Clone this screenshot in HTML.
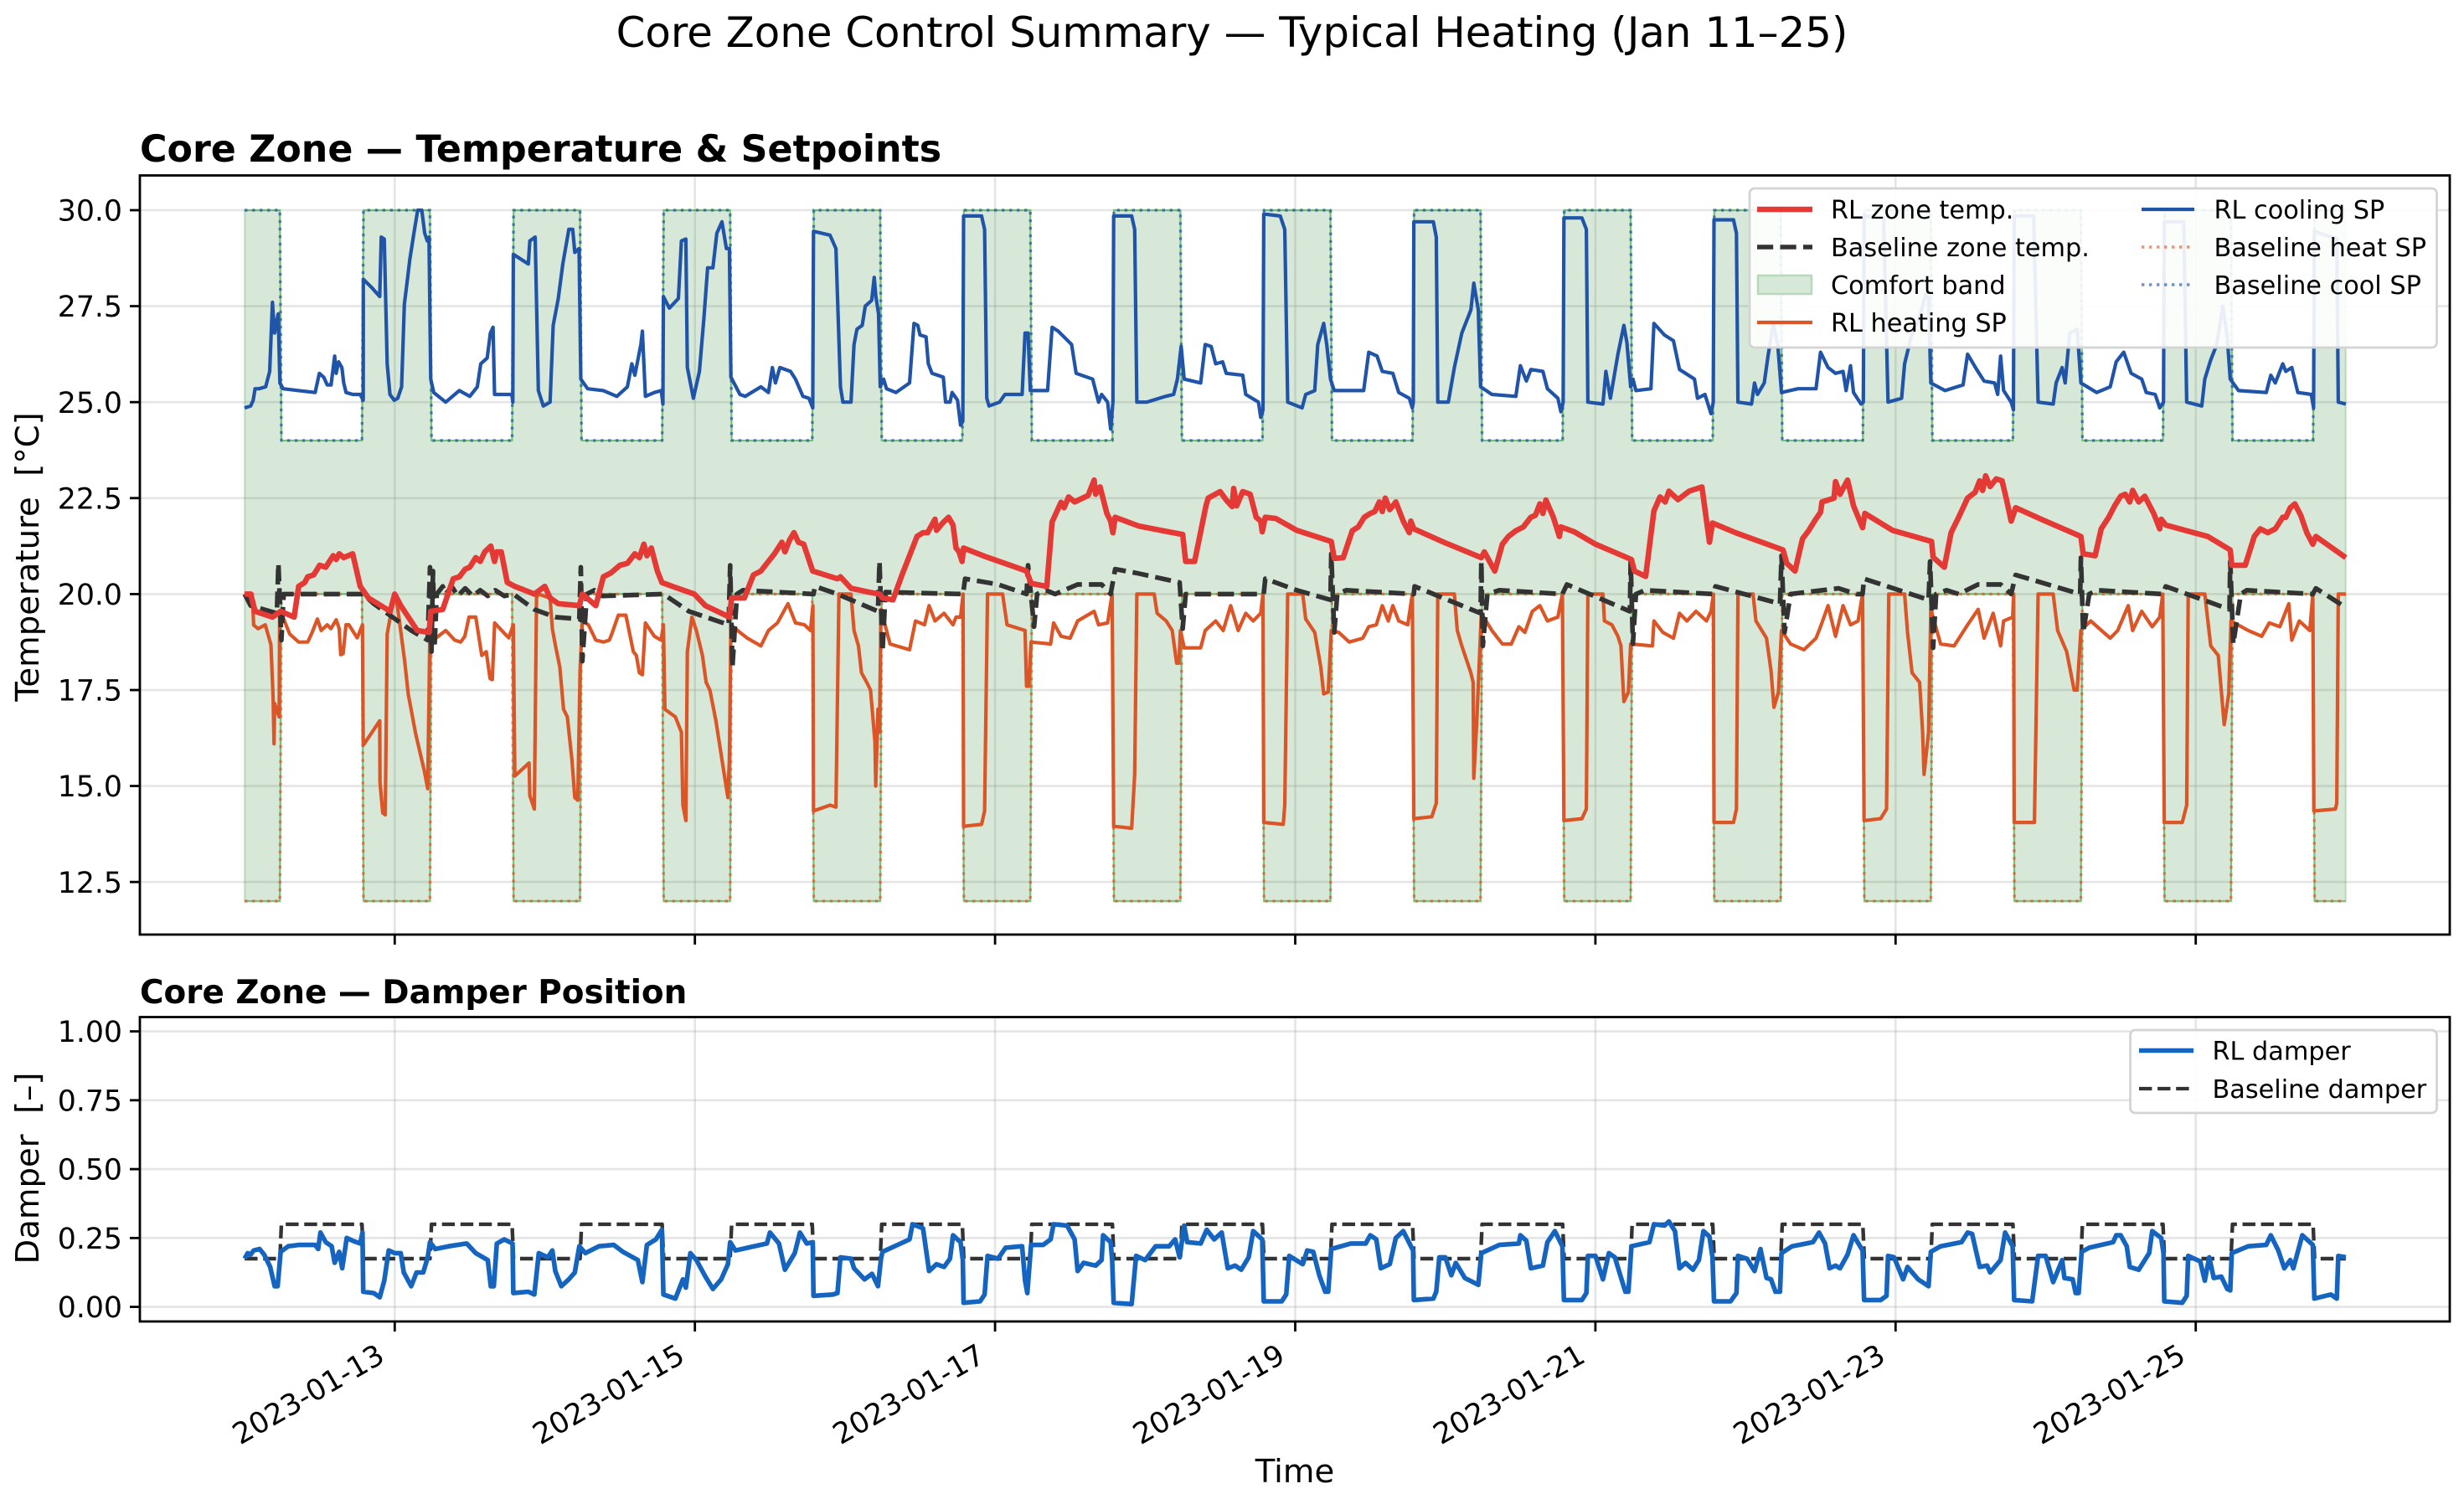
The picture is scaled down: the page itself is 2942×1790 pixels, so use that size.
<!DOCTYPE html>
<html lang="en">
<head>
<meta charset="utf-8">
<title>Core Zone Control Summary</title>
<style>
html,body{margin:0;padding:0;background:#fff;}
svg{display:block;}
text{font-family:"DejaVu Sans","Liberation Sans",sans-serif;fill:#000;white-space:pre;}
</style>
</head>
<body>
<svg id="chart" xmlns="http://www.w3.org/2000/svg" width="2942" height="1790" viewBox="0 0 2942 1790">
  <rect x="0" y="0" width="2942" height="1790" fill="#fff"/>
  <text x="1471" y="56" text-anchor="middle" font-size="49.8">Core Zone Control Summary — Typical Heating (Jan 11–25)</text>
  <text x="167" y="193" font-size="44.3" font-weight="bold">Core Zone — Temperature &amp; Setpoints</text>
  <text x="167" y="1198" font-size="38.9" font-weight="bold">Core Zone — Damper Position</text>
  <text transform="translate(46,665) rotate(-90)" text-anchor="middle" font-size="38.6">Temperature  [°C]</text>
  <text transform="translate(46,1395) rotate(-90)" text-anchor="middle" font-size="38.6">Damper  [–]</text>
  <text x="1546" y="1770" text-anchor="middle" font-size="38.6">Time</text>

  <g id="grid-layer"></g>
  <g id="series-layer"></g>
  <g id="tick-layer"></g>

  <rect x="167" y="209.5" width="2758" height="906.5" fill="none" stroke="#000" stroke-width="2.8"/>
  <rect x="167" y="1214.5" width="2758" height="363.5" fill="none" stroke="#000" stroke-width="2.8"/>

  <g>
    <rect x="2089" y="225" width="820.5" height="190" rx="6" fill="#fff" fill-opacity="0.9" stroke="#d4d4d4" stroke-width="2.8"/>
    <line x1="2098" y1="250" x2="2164" y2="250" stroke="#e53935" stroke-width="6.4"/>
    <text x="2186" y="261" font-size="30.3">RL zone temp.</text>
    <line x1="2098" y1="295" x2="2164" y2="295" stroke="#333" stroke-width="5.4" stroke-dasharray="19.2,8.3"/>
    <text x="2186" y="306" font-size="30.3">Baseline zone temp.</text>
    <rect x="2099" y="329" width="64" height="22" fill="#d6e9d8" stroke="#b7d9ba" stroke-width="2.5"/>
    <text x="2186" y="351" font-size="30.3">Comfort band</text>
    <line x1="2098" y1="385" x2="2164" y2="385" stroke="#dc5526" stroke-width="4.2"/>
    <text x="2186" y="396" font-size="30.3">RL heating SP</text>
    <line x1="2557" y1="250" x2="2620" y2="250" stroke="#1f54a8" stroke-width="4.2"/>
    <text x="2643.5" y="261" font-size="30.3">RL cooling SP</text>
    <line x1="2557" y1="295" x2="2620" y2="295" stroke="#e64a19" stroke-opacity="0.6" stroke-width="3.4" stroke-dasharray="3.4,5.6"/>
    <text x="2643.5" y="306" font-size="30.3">Baseline heat SP</text>
    <line x1="2557" y1="340" x2="2620" y2="340" stroke="#0d47a1" stroke-opacity="0.6" stroke-width="3.4" stroke-dasharray="3.4,5.6"/>
    <text x="2643.5" y="351" font-size="30.3">Baseline cool SP</text>
  </g>

  <g>
    <rect x="2543.5" y="1230" width="366" height="99" rx="6" fill="#fff" fill-opacity="0.9" stroke="#d4d4d4" stroke-width="2.8"/>
    <line x1="2554" y1="1254.5" x2="2619" y2="1254.5" stroke="#1565c0" stroke-width="5.4"/>
    <text x="2641.5" y="1265.5" font-size="30.3">RL damper</text>
    <line x1="2554" y1="1300" x2="2619" y2="1300" stroke="#333" stroke-width="4.2" stroke-dasharray="15.4,6.7"/>
    <text x="2641.5" y="1311" font-size="30.3">Baseline damper</text>
  </g>
</svg>

<script>
// Axis tick values and labels (time is expressed as day of January 2023)
const timeTicks = [13,15,17,19,21,23,25];
const timeTickLabels = ['2023-01-13','2023-01-15','2023-01-17','2023-01-19','2023-01-21','2023-01-23','2023-01-25'];
const tempTicks = [30,27.5,25,22.5,20,17.5,15,12.5];
const tempTickLabels = ['30.0','27.5','25.0','22.5','20.0','17.5','15.0','12.5'];
const damperTicks = [1,0.75,0.5,0.25,0];
const damperTickLabels = ['1.00','0.75','0.50','0.25','0.00'];

// Occupancy schedule switch times (day of January) and the level in each segment
const scheduleEdges = [12,12.24,12.787,13.24,13.787,14.24,14.787,15.24,15.787,16.24,16.787,17.24,17.787,18.24,18.787,19.24,19.787,20.24,20.787,21.24,21.787,22.24,22.787,23.24,23.787,24.24,24.787,25.24,25.787,26];
const baselineHeatSP = [12,20,12,20,12,20,12,20,12,20,12,20,12,20,12,20,12,20,12,20,12,20,12,20,12,20,12,20,12];
const baselineCoolSP = [30,24,30,24,30,24,30,24,30,24,30,24,30,24,30,24,30,24,30,24,30,24,30,24,30,24,30,24,30];
const baselineDamper = [0.175,0.3,0.175,0.3,0.175,0.3,0.175,0.3,0.175,0.3,0.175,0.3,0.175,0.3,0.175,0.3,0.175,0.3,0.175,0.3,0.175,0.3,0.175,0.3,0.175,0.3,0.175,0.3,0.175];

// RL cooling setpoint
const rlCoolT = [
12,12.04,12.057,12.07,12.096,12.14,12.167,12.185,12.2,12.224,12.235,12.256,12.36,12.47,12.498,12.527,12.55,12.576,12.6,12.61,12.626,12.648,12.66,12.676,12.72,12.77,12.79,12.791,12.843,12.9,12.91,12.93,12.95,12.968,12.996,
13.02,13.046,13.064,13.085,13.1,13.128,13.153,13.18,13.2,13.217,13.228,13.24,13.26,13.34,13.43,13.5,13.55,13.573,13.616,13.637,13.655,13.665,13.73,13.78,13.787,13.79,13.89,13.9,13.936,13.957,13.99,
14.035,14.056,14.09,14.12,14.16,14.186,14.2,14.228,14.24,14.285,14.39,14.48,14.55,14.58,14.6,14.64,14.65,14.67,14.73,14.776,14.787,14.79,14.83,14.89,14.91,14.94,14.95,14.99,
15.03,15.06,15.085,15.12,15.146,15.18,15.21,15.23,15.24,15.3,15.335,15.44,15.49,15.516,15.537,15.566,15.637,15.67,15.72,15.76,15.785,15.79,15.9,15.94,15.97,15.986,
16.04,16.06,16.08,16.115,16.135,16.178,16.195,16.206,16.224,16.235,16.257,16.277,16.34,16.43,16.46,16.485,16.5,16.54,16.555,16.58,16.655,16.67,16.7,16.714,16.75,16.77,16.785,16.79,16.91,16.93,16.945,16.96,
17.03,17.066,17.136,17.18,17.2,17.22,17.235,17.35,17.38,17.42,17.51,17.54,17.65,17.69,17.71,17.75,17.77,17.785,17.79,17.91,17.93,17.945,
18.01,18.136,18.19,18.215,18.24,18.26,18.37,18.4,18.44,18.47,18.516,18.54,18.65,18.67,18.755,18.77,18.785,18.79,18.9,18.93,18.95,
19.046,19.07,19.13,19.15,19.19,19.21,19.235,19.26,19.456,19.49,19.545,19.58,19.65,19.69,19.76,19.78,19.787,19.79,19.92,19.94,19.95,
20.02,20.06,20.11,20.17,20.19,20.22,20.235,20.31,20.47,20.5,20.54,20.57,20.65,20.68,20.75,20.77,20.785,20.79,20.91,20.94,20.95,
21.05,21.07,21.1,21.15,21.19,21.21,21.235,21.25,21.27,21.37,21.39,21.46,21.52,21.56,21.66,21.68,21.73,21.77,21.785,21.79,21.92,21.94,21.95,
22.04,22.06,22.08,22.125,22.15,22.185,22.215,22.24,22.35,22.47,22.5,22.55,22.6,22.65,22.67,22.7,22.72,22.77,22.785,22.79,22.92,22.95,
23.04,23.06,23.11,23.15,23.18,23.2,23.22,23.235,23.33,23.45,23.48,23.54,23.59,23.66,23.68,23.7,23.72,23.77,23.785,23.79,23.92,23.95,
24.05,24.07,24.11,24.13,24.16,24.21,24.235,24.34,24.43,24.47,24.52,24.57,24.64,24.67,24.73,24.76,24.785,24.79,24.92,24.94,
25.04,25.06,25.1,25.14,25.18,25.21,25.23,25.285,25.47,25.5,25.53,25.58,25.6,25.64,25.68,25.77,25.785,25.79,25.94,25.95,26];
const rlCoolV = [
24.85,24.9,25.05,25.35,25.35,25.4,25.8,27.6,26.8,27.3,25.5,25.35,25.3,25.25,25.75,25.65,25.45,25.45,26.2,25.75,26.05,25.9,25.5,25.25,25.2,25.2,25.05,28.2,28,27.75,29.3,29.25,26,25.2,25.05,
25.1,25.4,27.55,28.2,28.7,29.4,30,30,29.4,29.2,29.3,25.6,25.25,25,25.3,25.15,25.4,26,26.15,26.8,26.95,25.2,25.2,25.2,25,28.85,28.6,29.2,29.3,25.3,24.9,
25,27,27.7,28.6,29.5,29.5,28.9,29,25.6,25.35,25.3,25.15,25.4,26,25.7,26.5,26.85,25.15,25.25,25.3,24.95,27.75,27.45,27.7,29.2,29.25,25.9,25.1,
25.8,27.2,28.5,28.5,29.4,29.7,29,29,25.65,25.2,25.15,25.4,25.25,25.9,25.5,25.9,25.8,25.6,25.15,25.1,24.85,29.45,29.35,29,25.4,25,
25,26.5,26.9,27,27.5,27.65,28.25,27.75,27.3,25.4,25.6,25.35,25.25,25.5,27.05,27,26.75,26.7,26,25.75,25.65,25,25,25.25,25.05,24.4,24.5,29.85,29.85,29.5,25.1,24.9,
25,25.2,25.2,25.2,26.8,26.8,25.3,25.3,26.95,26.85,26.5,25.75,25.6,25,25.2,25,24.3,25,29.85,29.85,29.5,25,
25,25.15,25.2,25.6,26.45,25.6,25.5,26.5,26.45,26,26.05,25.75,25.7,25.2,25,24.6,24.8,29.9,29.85,29.5,25,
24.85,25.2,25.3,26.5,27.05,26.5,25.6,25.3,25.3,26.3,26.2,25.8,25.75,25.25,25.1,24.85,25,29.7,29.7,29.3,25,
25,25.9,26.8,27.4,28.1,27.4,25.4,25.2,25.15,25.95,25.55,25.85,25.8,25.35,25.1,24.75,25,29.8,29.8,29.5,25,
24.95,25.8,25.1,26.25,27,26.55,25.4,25.6,25.3,25.35,27.05,26.75,26.6,25.85,25.6,25.1,25.2,24.7,25,29.75,29.75,29.4,25,
24.95,25.5,25.2,25.5,26.2,27.05,26.5,25.25,25.35,25.35,26.3,25.9,25.75,25.8,25.3,25.95,25.25,24.95,25,29.85,29.8,25,
25.1,26,26.8,27.1,27.5,27.8,27.7,25.5,25.3,25.45,26.25,25.85,25.55,25.5,25.2,26.2,25.3,25,24.8,29.85,29.85,25,
24.95,25.5,25.9,25.5,26.8,26.9,25.5,25.25,25.4,26.05,26.3,25.75,25.6,25.25,25.2,24.85,25,29.7,29.7,25,
24.9,25.6,26.1,26.5,27.5,26.7,25.6,25.3,25.25,25.7,25.5,26,25.8,25.9,25.25,25.2,24.85,29.45,29.25,25,24.95];

// RL heating setpoint
const rlHeatT = [
12,12.05,12.06,12.09,12.137,12.175,12.19,12.196,12.2,12.23,12.233,12.255,12.3,12.36,12.42,12.45,12.485,12.51,12.55,12.575,12.61,12.63,12.64,12.656,12.675,12.695,12.75,12.785,12.79,12.9,12.902,12.92,12.937,12.95,12.99,
13.01,13.03,13.066,13.09,13.14,13.197,13.22,13.233,13.29,13.34,13.4,13.44,13.467,13.495,13.54,13.58,13.61,13.635,13.65,13.666,13.735,13.76,13.79,13.8,13.895,13.9,13.93,13.945,13.955,
14.035,14.05,14.07,14.1,14.125,14.15,14.18,14.2,14.22,14.235,14.25,14.29,14.34,14.39,14.43,14.45,14.49,14.54,14.59,14.61,14.63,14.65,14.67,14.73,14.775,14.79,14.8,14.87,14.91,14.92,14.94,14.95,14.98,
15.01,15.05,15.075,15.1,15.14,15.19,15.22,15.23,15.24,15.3,15.35,15.44,15.49,15.55,15.62,15.67,15.73,15.77,15.786,15.79,15.9,15.94,15.96,
16.04,16.06,16.09,16.11,16.145,16.17,16.2,16.205,16.22,16.23,16.24,16.3,16.43,16.47,16.53,16.56,16.6,16.66,16.72,16.74,16.77,16.787,16.79,16.91,16.93,16.95,
17.05,17.08,17.2,17.21,17.225,17.24,17.37,17.39,17.44,17.5,17.55,17.66,17.69,17.75,17.78,17.79,17.91,17.93,17.945,
18.06,18.08,18.14,18.18,18.21,18.225,18.235,18.26,18.37,18.4,18.47,18.52,18.57,18.62,18.67,18.72,18.77,18.785,18.79,18.92,18.93,18.95,
19.05,19.07,19.13,19.17,19.19,19.22,19.24,19.29,19.36,19.45,19.49,19.54,19.58,19.62,19.65,19.69,19.75,19.78,19.79,19.91,19.94,19.95,
20.06,20.08,20.11,20.17,20.185,20.19,20.21,20.24,20.31,20.38,20.44,20.49,20.53,20.58,20.63,20.68,20.75,20.78,20.79,20.91,20.94,20.95,
21.05,21.06,21.11,21.15,21.17,21.19,21.22,21.235,21.38,21.39,21.45,21.52,21.56,21.61,21.67,21.74,21.77,21.786,21.79,21.92,21.94,21.95,
22.05,22.07,22.14,22.17,22.19,22.22,22.24,22.3,22.39,22.47,22.5,22.55,22.6,22.65,22.7,22.75,22.78,22.79,22.9,22.94,22.955,
23.06,23.08,23.11,23.16,23.18,23.19,23.22,23.235,23.3,23.39,23.48,23.55,23.59,23.65,23.7,23.72,23.78,23.787,23.79,23.925,23.95,
24.05,24.08,24.14,24.19,24.21,24.235,24.3,24.43,24.48,24.55,24.58,24.64,24.71,24.76,24.78,24.79,24.91,24.94,24.95,
25.06,25.1,25.15,25.19,25.22,25.235,25.35,25.44,25.49,25.56,25.62,25.64,25.69,25.76,25.78,25.787,25.93,25.94,25.95,26];
const rlHeatV = [
20,20,19.19,19.1,19.2,18.68,17.3,16.1,17.15,16.8,19.5,19.4,18.96,18.75,18.75,19,19.35,19.05,19.2,19.1,19.33,19.1,18.42,18.45,19.2,19.2,18.86,19.2,16.06,16.7,15.1,14.3,14.25,18.96,19.84,
19.9,19.33,18.27,17.4,16.35,15.4,14.93,18.75,18.9,19.05,18.8,18.75,18.9,19.4,19.4,18.4,18.5,17.8,17.77,19.25,18.96,18.86,19.2,15.26,15.6,14.75,14.4,19.9,20,
19.9,19.1,18.68,18.1,17,16.8,15.7,14.7,14.63,18,19.3,19.2,18.8,18.75,18.8,19,19.45,19.45,18.5,18.4,17.95,17.9,19.25,18.9,18.8,19.2,17,16.8,16.4,14.5,14.1,18.5,19.4,
19.05,18.4,17.7,17.5,16.7,15.45,14.7,15.7,19.2,19,18.85,18.65,19.05,19.25,19.75,19.25,19.2,19.05,19.7,14.35,14.5,14.45,20,
20,19.05,18.65,17.95,17.7,17.5,16.15,15,17,16.4,19.6,18.7,18.55,19.3,19.2,19.7,19.3,19.5,19.2,19.4,19.4,20,13.95,14,14.35,20,
20,19.2,19.05,17.6,17.6,18.75,18.7,19.25,18.9,18.85,19.3,19.55,19.2,19.25,20,13.95,13.9,15.3,20,
20,19.5,19.3,19.05,18.2,18.2,19.05,18.6,18.6,19.05,19.3,19.05,19.7,19.05,19.5,19.3,19.5,20,14.05,14,14.5,20,
20,19.35,19,18.1,17.4,17.45,19.05,19,18.75,18.85,19.15,19.2,19.7,19.3,19.7,19.3,19.2,20,14.15,14.2,14.55,20,
20,19.05,18.65,17.95,17.7,15.2,16.7,19.5,19.05,18.7,18.7,19.15,19,19.55,19.7,19.3,19.4,20,14.1,14.15,14.4,20,
20,19.3,19.2,18.9,18.65,17.2,17.45,18.7,18.65,19.3,19,18.85,19.5,19.3,19.55,19.3,19.55,20,14.05,14.05,14.4,20,
20,19.3,18.85,18,17.05,17.45,19.05,18.7,18.55,18.85,19.15,19.7,18.9,19.7,19.2,19.3,20,14.1,14.15,14.4,20,
20,19,17.95,17.7,16.4,15.3,16.4,19.6,18.7,18.65,19.2,19.6,18.85,19.5,18.65,19.3,19.4,20,14.05,14.05,20,
20,19.05,18.5,17.5,17.5,19.05,19.3,18.85,19.05,19.7,19.05,19.55,19.15,19.4,20,14.05,14.05,14.5,20,
20,18.65,18.4,16.6,17.4,19.3,19.05,18.9,19.25,19.15,19.75,18.8,19.3,19.05,20,14.35,14.4,14.55,20,20];

// RL zone temperature
const rlZoneT = [
12,12.04,12.07,12.185,12.24,12.33,12.36,12.4,12.42,12.46,12.5,12.54,12.59,12.61,12.63,12.66,12.72,12.77,12.825,12.97,
13,13.04,13.15,13.23,13.24,13.32,13.39,13.43,13.47,13.5,13.54,13.57,13.6,13.64,13.665,13.68,13.71,13.75,13.8,13.93,
14,14.035,14.09,14.23,14.25,14.34,14.39,14.44,14.5,14.55,14.6,14.63,14.66,14.68,14.71,14.75,14.78,14.85,14.996,
15.07,15.23,15.245,15.33,15.39,15.44,15.49,15.53,15.58,15.6,15.63,15.66,15.69,15.725,15.785,15.95,15.97,
16.04,16.16,16.23,16.25,16.32,16.38,16.43,16.48,16.52,16.55,16.6,16.61,16.65,16.69,16.72,16.74,16.76,16.78,16.79,16.94,
17.21,17.24,17.345,17.38,17.44,17.46,17.49,17.53,17.62,17.66,17.67,17.7,17.745,17.77,17.785,17.8,17.96,
18.25,18.27,18.33,18.405,18.42,18.5,18.54,18.58,18.59,18.61,18.65,18.7,18.74,18.77,18.78,18.8,18.87,
19.01,19.24,19.26,19.32,19.38,19.42,19.46,19.5,19.53,19.56,19.58,19.6,19.63,19.67,19.72,19.76,19.77,19.79,19.99,
20.24,20.26,20.33,20.38,20.42,20.47,20.52,20.57,20.6,20.63,20.65,20.67,20.72,20.76,20.77,20.86,
21,21.24,21.26,21.335,21.39,21.43,21.465,21.49,21.55,21.625,21.71,21.76,21.78,21.94,
22.25,22.275,22.33,22.38,22.42,22.46,22.5,22.51,22.59,22.6,22.63,22.68,22.72,22.78,22.795,22.98,
23.24,23.25,23.325,23.37,23.42,23.48,23.53,23.56,23.58,23.6,23.63,23.67,23.71,23.74,23.77,23.8,23.97,
24.235,24.25,24.33,24.37,24.42,24.46,24.5,24.53,24.56,24.58,24.62,24.66,24.72,24.76,24.77,24.8,24.94,
25.08,25.23,25.24,25.33,25.39,25.43,25.48,25.53,25.58,25.6,25.63,25.66,25.7,25.74,25.78,25.8,26];
const rlZoneV = [
20,20,19.55,19.4,19.55,19.4,20.2,20.3,20.45,20.5,20.75,20.7,21,20.9,21.05,20.95,21.05,20.2,19.9,19.55,
20,19.7,19.05,19,19.55,19.6,20.4,20.45,20.65,20.7,20.95,20.85,21.1,21.25,20.85,21.1,21.1,20.3,20.2,20,
20.2,19.9,19.75,19.7,20,19.7,20.45,20.55,20.75,20.8,21.05,20.95,21.3,21,21.2,20.6,20.3,20.2,20,
19.7,19.4,19.9,19.9,20.5,20.6,20.85,21.05,21.35,21.1,21.4,21.6,21.35,21.3,20.6,20.4,20.45,
20.15,20.05,20,19.9,19.85,20.5,21,21.5,21.6,21.6,21.95,21.66,21.85,22,21.8,21.2,21.1,20.85,21.2,20.97,
20.6,20.28,20.2,21.88,22.39,22.25,22.53,22.4,22.57,22.97,22.6,22.79,22.1,21.9,21.6,22,21.77,
21.55,20.85,20.85,22.3,22.5,22.67,22.45,22.28,22.75,22.3,22.67,22.6,22,21.9,21.62,22,21.97,
21.66,21.37,20.93,20.95,21.65,21.75,22,22.1,22.15,22.4,22.15,22.5,22.2,22.4,21.9,21.6,21.9,21.7,21.35,
20.95,21.1,20.6,21.3,21.5,21.65,21.75,22,22.05,22.35,22.1,22.45,22,21.5,21.75,21.62,
21.3,20.9,20.6,20.46,22.17,22.53,22.4,22.68,22.46,22.68,22.79,21.35,21.85,21.59,
21.15,20.8,20.6,21.44,21.65,21.9,22.13,22.4,22.5,22.93,22.6,22.97,22.3,21.73,22.1,21.66,
21.37,20.96,20.7,21.6,22,22.5,22.65,22.95,22.7,23.08,22.8,23,22.95,22.45,21.9,22.25,21.95,
21.5,21.05,21,21.7,22,22.3,22.55,22.6,22.4,22.7,22.4,22.55,22.1,21.7,21.95,21.8,21.65,
21.5,21.15,20.75,20.75,21.5,21.7,21.6,21.7,22,22,22.25,22.35,22.05,21.6,21.3,21.5,20.95];

// Baseline zone temperature
const baseZoneT = [
12,12.04,12.215,12.225,12.245,12.26,12.79,12.86,12.985,
13.11,13.22,13.235,13.245,13.255,13.265,13.28,13.32,13.34,13.38,13.42,13.47,13.52,13.57,13.62,13.67,13.73,13.79,13.93,
14.07,14.23,14.24,14.25,14.28,14.33,14.38,14.79,14.96,
15.225,15.235,15.25,15.28,15.32,15.79,15.8,15.95,
16.22,16.23,16.25,16.27,16.787,16.8,
17.02,17.21,17.22,17.26,17.28,17.34,17.4,17.55,17.71,17.77,17.8,17.94,
18.23,18.25,18.27,18.79,18.8,
19.01,19.235,19.24,19.26,19.28,19.34,19.79,19.795,
20.235,20.24,20.25,20.28,20.36,20.78,20.81,
21.23,21.235,21.25,21.27,21.33,21.786,21.8,
22.23,22.24,22.26,22.3,22.62,22.74,22.78,22.79,
23.22,23.23,23.25,23.27,23.34,23.42,23.55,23.7,23.77,23.8,
24.23,24.235,24.25,24.29,24.34,24.78,24.8,
25.225,25.23,25.25,25.3,25.34,25.78,25.8,26];
const baseZoneV = [
20,19.7,19.5,20.8,18.8,20,20,19.75,19.4,
19.05,18.8,20.7,18.5,20.6,18.6,20,20.2,20,20.2,19.95,20.15,19.95,20.1,19.95,20.1,19.95,20,19.6,
19.4,19.35,20.7,18.25,20,20.1,19.95,20,19.55,
19.2,20.75,18.1,20,20.1,20,20.2,20,
19.55,20.85,18.5,20.05,20,20.4,
20.25,20,20.75,19.15,20,20.1,20,20.25,20.25,20,20.65,20.55,
20.3,19.1,20,20,20.4,
20.1,19.85,21.05,19,20,20.1,20,20.2,
19.5,20.85,18.65,20,20.1,20,20.25,
19.55,20.85,18.7,20,20.1,20,20.2,
19.75,21,19,20,20.15,20,20,20.4,
19.85,20.85,18.6,20,20.1,20,20.25,20.25,20,20.5,
20,20.95,19,20,20.1,20,20.2,
19.6,20.85,18.7,20,20.1,20,20.15,19.65];

// RL damper position
const rlDamperT = [
12,12.02,12.04,12.06,12.1,12.13,12.17,12.2,12.22,12.24,12.29,12.36,12.47,12.49,12.505,12.54,12.58,12.6,12.63,12.65,12.68,12.72,12.77,12.785,12.79,12.86,12.9,12.93,12.96,
13,13.04,13.06,13.11,13.145,13.19,13.22,13.235,13.27,13.36,13.48,13.54,13.62,13.64,13.66,13.68,13.73,13.785,13.79,13.89,13.93,13.96,
14.02,14.05,14.07,14.11,14.16,14.2,14.23,14.27,14.36,14.46,14.52,14.62,14.65,14.68,14.74,14.78,14.79,14.87,14.92,14.94,14.97,
15.01,15.07,15.12,15.175,15.22,15.235,15.27,15.48,15.5,15.56,15.6,15.665,15.7,15.745,15.785,15.79,15.92,15.95,15.97,
16.04,16.06,16.13,16.18,16.22,16.24,16.25,16.43,16.45,16.52,16.56,16.61,16.66,16.7,16.72,16.77,16.785,16.79,16.9,16.93,16.95,
17.02,17.07,17.18,17.2,17.215,17.24,17.32,17.37,17.39,17.48,17.53,17.55,17.59,17.67,17.71,17.72,17.77,17.78,17.79,17.91,17.94,
18,18.07,18.16,18.2,18.23,18.26,18.28,18.37,18.41,18.46,18.51,18.55,18.6,18.64,18.69,18.72,18.78,18.79,18.91,18.94,18.96,
19.05,19.08,19.12,19.16,19.2,19.22,19.24,19.37,19.47,19.5,19.54,19.57,19.63,19.67,19.72,19.785,19.79,19.92,19.94,19.96,
20,20.04,20.07,20.13,20.22,20.24,20.36,20.49,20.5,20.54,20.57,20.65,20.68,20.73,20.78,20.79,20.91,20.94,20.95,
21,21.05,21.09,21.13,21.16,21.2,21.22,21.24,21.36,21.39,21.46,21.49,21.53,21.56,21.6,21.65,21.69,21.72,21.76,21.78,21.79,21.9,21.94,21.95,
22.01,22.06,22.1,22.14,22.17,22.2,22.23,22.24,22.31,22.45,22.49,22.53,22.56,22.6,22.63,22.68,22.72,22.78,22.79,22.9,22.94,22.95,22.99,
23.05,23.08,23.15,23.22,23.235,23.3,23.44,23.48,23.51,23.56,23.61,23.63,23.7,23.73,23.78,23.79,23.91,23.95,
24,24.05,24.11,24.125,24.18,24.2,24.22,24.24,24.29,24.45,24.47,24.5,24.54,24.56,24.62,24.69,24.71,24.77,24.785,24.79,24.91,24.94,24.95,
25.03,25.06,25.09,25.12,25.17,25.21,25.23,25.24,25.35,25.47,25.5,25.55,25.59,25.63,25.65,25.71,25.78,25.79,25.9,25.94,25.95,26];
const rlDamperV = [
0.175,0.195,0.19,0.205,0.21,0.19,0.145,0.075,0.075,0.2,0.22,0.225,0.225,0.21,0.27,0.235,0.22,0.16,0.2,0.14,0.25,0.24,0.23,0.27,0.055,0.05,0.035,0.095,0.205,
0.195,0.195,0.125,0.075,0.125,0.125,0.18,0.235,0.21,0.22,0.23,0.195,0.17,0.075,0.075,0.23,0.245,0.23,0.05,0.055,0.045,0.195,
0.18,0.205,0.13,0.075,0.1,0.125,0.22,0.195,0.22,0.225,0.2,0.17,0.09,0.225,0.245,0.28,0.045,0.03,0.1,0.07,0.195,
0.17,0.11,0.065,0.1,0.155,0.235,0.205,0.23,0.27,0.23,0.135,0.195,0.27,0.23,0.235,0.04,0.045,0.05,0.18,
0.175,0.14,0.1,0.12,0.075,0.175,0.2,0.245,0.3,0.285,0.13,0.155,0.145,0.175,0.26,0.235,0.17,0.015,0.02,0.045,0.185,
0.175,0.215,0.22,0.095,0.05,0.225,0.225,0.245,0.3,0.295,0.245,0.13,0.16,0.15,0.17,0.26,0.235,0.17,0.015,0.01,0.185,
0.17,0.22,0.22,0.245,0.18,0.295,0.235,0.23,0.28,0.245,0.27,0.14,0.15,0.135,0.18,0.275,0.245,0.02,0.02,0.045,0.185,
0.155,0.205,0.2,0.115,0.055,0.055,0.21,0.23,0.23,0.26,0.245,0.14,0.155,0.25,0.275,0.205,0.025,0.03,0.055,0.18,
0.18,0.115,0.16,0.105,0.08,0.195,0.225,0.23,0.26,0.24,0.14,0.15,0.235,0.275,0.22,0.025,0.025,0.05,0.185,
0.185,0.1,0.195,0.18,0.125,0.055,0.055,0.22,0.235,0.3,0.295,0.31,0.275,0.14,0.16,0.135,0.17,0.275,0.255,0.18,0.02,0.02,0.05,0.185,
0.175,0.13,0.21,0.105,0.1,0.055,0.055,0.195,0.22,0.235,0.27,0.23,0.14,0.15,0.14,0.19,0.26,0.205,0.025,0.025,0.04,0.185,0.18,
0.1,0.145,0.1,0.075,0.2,0.22,0.235,0.27,0.265,0.145,0.15,0.125,0.17,0.27,0.22,0.025,0.02,0.185,
0.185,0.09,0.17,0.105,0.1,0.05,0.05,0.2,0.215,0.235,0.26,0.26,0.22,0.145,0.135,0.195,0.275,0.25,0.195,0.02,0.015,0.04,0.185,
0.165,0.095,0.18,0.105,0.11,0.065,0.06,0.195,0.22,0.225,0.26,0.205,0.14,0.17,0.14,0.26,0.225,0.03,0.045,0.03,0.185,0.18];

// Axis mappings
function xTime(day){ return 471.3 + (day - 13) * 179.2; }
function yTemp(v){ return 251 + (30 - v) * 45.84; }
function yDamper(v){ return 1560.6 - 329 * v; }

const SVGNS = 'http://www.w3.org/2000/svg';
const gridLayer = document.getElementById('grid-layer');
const seriesLayer = document.getElementById('series-layer');
const tickLayer = document.getElementById('tick-layer');

function mk(tag, attrs, parent){
  const e = document.createElementNS(SVGNS, tag);
  for (const k in attrs) e.setAttribute(k, attrs[k]);
  parent.appendChild(e);
  return e;
}
function pathFrom(T, V, yf){
  const n = Math.min(T.length, V.length);
  let d = '';
  for (let i = 0; i < n; i++){
    d += (i ? 'L' : 'M') + xTime(T[i]).toFixed(1) + ' ' + yf(V[i]).toFixed(1);
  }
  return d;
}
// Expand a schedule (switch times + per-segment levels) into a polyline; the
// switch happens over one 15-minute sample.
function stepT(edges){
  const out = [edges[0]];
  for (let i = 1; i < edges.length - 1; i++){ out.push(edges[i] - 0.005, edges[i] + 0.005); }
  out.push(edges[edges.length - 1]);
  return out;
}
function stepV(levels){
  const out = [levels[0]];
  for (let i = 1; i < levels.length; i++){ out.push(levels[i - 1], levels[i]); }
  out.push(levels[levels.length - 1]);
  return out;
}

// Gridlines
[[209.5,1116],[1214.5,1578]].forEach(function(range, idx){
  timeTicks.forEach(function(day){
    const g = mk('line',{x1:xTime(day),x2:xTime(day),y1:range[0],y2:range[1],stroke:'#b0b0b0','stroke-opacity':0.33,'stroke-width':2.6}, gridLayer);
    
    
  });
});
tempTicks.forEach(function(v){
  const g = mk('line',{x1:167,x2:2925,y1:yTemp(v),y2:yTemp(v),stroke:'#b0b0b0','stroke-opacity':0.33,'stroke-width':2.6}, gridLayer);
  
  
});
damperTicks.forEach(function(v){
  const g = mk('line',{x1:167,x2:2925,y1:yDamper(v),y2:yDamper(v),stroke:'#b0b0b0','stroke-opacity':0.33,'stroke-width':2.6}, gridLayer);
  
  
});

// Ticks and tick labels
timeTicks.forEach(function(day, i){
  const x = xTime(day);
  const t1 = mk('line',{x1:x,x2:x,y1:1116,y2:1128,stroke:'#000','stroke-width':2.8}, tickLayer);
  
  
  const t2 = mk('line',{x1:x,x2:x,y1:1578,y2:1590,stroke:'#000','stroke-width':2.8}, tickLayer);
  
  
  const lab = mk('text',{'text-anchor':'end','font-size':34.7,transform:'translate(' + (x - 10) + ',1625) rotate(-30)'}, tickLayer);
  lab.textContent = timeTickLabels[i];
  
  
});
tempTicks.forEach(function(v, i){
  const y = yTemp(v);
  const t = mk('line',{x1:155,x2:167,y1:y,y2:y,stroke:'#000','stroke-width':2.8}, tickLayer);
  
  
  const lab = mk('text',{x:146,y:y + 12.6,'text-anchor':'end','font-size':34.7}, tickLayer);
  lab.textContent = tempTickLabels[i];
  
  
});
damperTicks.forEach(function(v, i){
  const y = yDamper(v);
  const t = mk('line',{x1:155,x2:167,y1:y,y2:y,stroke:'#000','stroke-width':2.8}, tickLayer);
  
  
  const lab = mk('text',{x:146,y:y + 12.6,'text-anchor':'end','font-size':34.7}, tickLayer);
  lab.textContent = damperTickLabels[i];
  
  
});

// Comfort band
const schedT = stepT(scheduleEdges);
const heatStepV = stepV(baselineHeatSP);
const coolStepV = stepV(baselineCoolSP);
const dampStepV = stepV(baselineDamper);
let bandD = pathFrom(schedT, coolStepV, yTemp);
for (let i = schedT.length - 1; i >= 0; i--){
  bandD += 'L' + xTime(schedT[i]).toFixed(1) + ' ' + yTemp(heatStepV[i]).toFixed(1);
}
bandD += 'Z';
const band = mk('path',{d:bandD,fill:'#388e3c','fill-opacity':0.2,stroke:'#388e3c','stroke-opacity':0.2,'stroke-width':2.6}, seriesLayer);


const bandHi = mk('path',{d:pathFrom(schedT, coolStepV, yTemp),fill:'none',stroke:'#4caf50','stroke-opacity':0.65,'stroke-width':2}, seriesLayer);


const bandLo = mk('path',{d:pathFrom(schedT, heatStepV, yTemp),fill:'none',stroke:'#4caf50','stroke-opacity':0.65,'stroke-width':2}, seriesLayer);



// Temperature series
const lineBase = {fill:'none','stroke-linejoin':'round'};
const heatDots = mk('path',Object.assign({d:pathFrom(schedT, heatStepV, yTemp),stroke:'#e64a19','stroke-opacity':0.6,'stroke-width':3.4,'stroke-dasharray':'3.4,5.6'},lineBase), seriesLayer);


const coolDots = mk('path',Object.assign({d:pathFrom(schedT, coolStepV, yTemp),stroke:'#0d47a1','stroke-opacity':0.6,'stroke-width':3.4,'stroke-dasharray':'3.4,5.6'},lineBase), seriesLayer);


const heatLine = mk('path',Object.assign({d:pathFrom(rlHeatT, rlHeatV, yTemp),stroke:'#dc5526','stroke-width':4.2},lineBase), seriesLayer);


const coolLine = mk('path',Object.assign({d:pathFrom(rlCoolT, rlCoolV, yTemp),stroke:'#1f54a8','stroke-width':4.2},lineBase), seriesLayer);


const baseLine = mk('path',Object.assign({d:pathFrom(baseZoneT, baseZoneV, yTemp),stroke:'#333','stroke-width':5.6,'stroke-dasharray':'19.2,8.3'},lineBase), seriesLayer);


const zoneLine = mk('path',Object.assign({d:pathFrom(rlZoneT, rlZoneV, yTemp),stroke:'#e53935','stroke-width':6.6},lineBase), seriesLayer);



// Damper series
const baseDamp = mk('path',Object.assign({d:pathFrom(schedT, dampStepV, yDamper),stroke:'#333','stroke-width':4.4,'stroke-dasharray':'15.4,6.7'},lineBase), seriesLayer);


const rlDamp = mk('path',Object.assign({d:pathFrom(rlDamperT, rlDamperV, yDamper),stroke:'#1565c0','stroke-width':5.6},lineBase), seriesLayer);


</script>
</body>
</html>
